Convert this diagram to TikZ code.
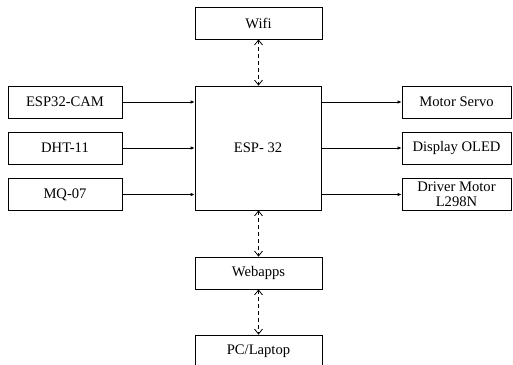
\documentclass[tikz,border=0pt]{standalone}
\usepackage{fontspec}
\setmainfont{Liberation Serif}
\usetikzlibrary{arrows.meta}
\begin{document}
\begin{tikzpicture}[x=1pt,y=-1pt, font=\fontsize{14.6}{15}\selectfont,
 box/.style={draw, line width=0.75pt, inner sep=0pt, align=center},
 sidebox/.style={box, minimum width=114pt, minimum height=32pt},
 outbox/.style={box, minimum width=109pt, minimum height=32pt},
 midbox/.style={box, minimum width=127pt, minimum height=32pt},
 sig/.style={-{Latex[length=4pt,width=3.5pt]}, line width=0.75pt},
 link/.style={{Straight Barb[length=5pt,width=8pt]}-{Straight Barb[length=5pt,width=8pt]}, dash pattern=on 4pt off 3pt, line width=0.75pt}]
\clip (0,0) rectangle (513,364);
\useasboundingbox (0,0) rectangle (513,364);
\node[midbox] (wifi) at (258.5,23) {Wifi};
\node[box, minimum width=126pt, minimum height=124pt] (esp) at (258,148) {ESP- 32};
\node[sidebox] (cam) at (65,102) {ESP32-CAM};
\node[sidebox] (dht) at (65,148) {DHT-11};
\node[sidebox] (mq) at (65,194.5) {MQ-07};
\node[outbox] (servo) at (456.5,102) {Motor Servo};
\node[outbox] (oled) at (456.5,148) {Display OLED};
\node[outbox] (drv) at (456.5,194.5) {Driver Motor\\L298N};
\node[midbox] (web) at (258.5,273) {Webapps};
\node[midbox] (pc) at (258.5,351) {PC/Laptop};
\draw[sig] (cam.east) -- (esp.west |- cam.east);
\draw[sig] (dht.east) -- (esp.west |- dht.east);
\draw[sig] (mq.east) -- (esp.west |- mq.east);
\draw[sig] (esp.east |- servo.west) -- (servo.west);
\draw[sig] (esp.east |- oled.west) -- (oled.west);
\draw[sig] (esp.east |- drv.west) -- (drv.west);
\draw[link] (wifi.south) -- (wifi.south |- esp.north);
\draw[link] (web.north |- esp.south) -- (web.north);
\draw[link] (web.south) -- (pc.north);
\end{tikzpicture}
\end{document}
